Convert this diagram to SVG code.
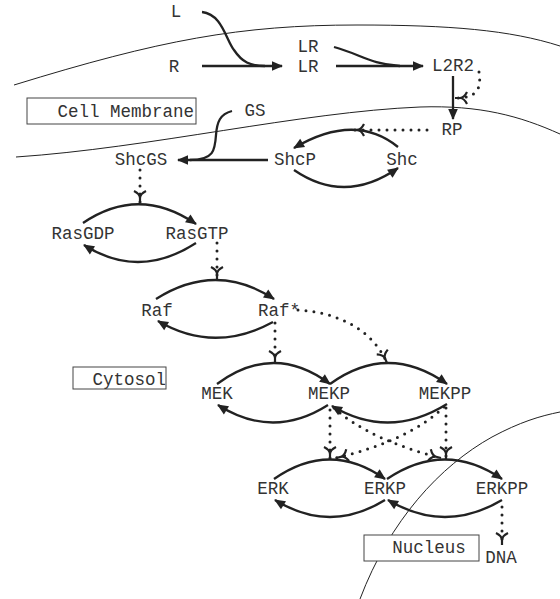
<svg xmlns="http://www.w3.org/2000/svg" width="560" height="599" viewBox="0 0 560 599">
<defs>
<style>
.t{font-family:"Liberation Mono","DejaVu Sans Mono",monospace;font-size:17.5px;fill:#333;text-anchor:middle}
.e{text-anchor:end}
.st{text-anchor:start}
.s{fill:none;stroke:#222;stroke-width:2.3;marker-end:url(#ah)}
.j{fill:none;stroke:#222;stroke-width:2.3}
.d{fill:none;stroke:#222;stroke-width:3;stroke-linecap:round;stroke-dasharray:0 8;marker-end:url(#y)}
.m{fill:none;stroke:#222;stroke-width:1}
.b{fill:#fff;stroke:#444;stroke-width:1}
</style>
<marker id="ah" markerUnits="userSpaceOnUse" viewBox="-12 -6 14 12" markerWidth="14" markerHeight="12" refX="0" refY="0" orient="auto">
<path d="M1,0 L-10,-4.8 L-10,4.8 Z" fill="#222"/>
</marker>
<marker id="y" markerUnits="userSpaceOnUse" viewBox="-14 -8 16 16" markerWidth="16" markerHeight="16" refX="0" refY="0" orient="auto">
<path d="M0,0 H-5 M-5,0 Q-9,0 -12,-6 M-5,0 Q-9,0 -12,6" fill="none" stroke="#222" stroke-width="2.2"/>
</marker>
</defs>
<g id="compartments">
<path class="m" d="M14,85 C160,40 240,25 357,25 C450,25 510,30 560,46"/>
<path class="m" d="M16,157 C150,148 300,112 420,107 C480,105 520,116 560,134"/>
<path class="m" d="M360,599 C390,520 440,466 492,437 C520,422 540,416 560,412"/>
</g>
<g id="labels">
<g id="label-membrane"><rect class="b" x="27" y="98" width="169" height="26"/><text class="t e" x="194" y="117">Cell Membrane</text></g>
<g id="label-cytosol"><rect class="b" x="73" y="367" width="93" height="22"/><text class="t e" x="166" y="385">Cytosol</text></g>
<g id="label-nucleus"><rect class="b" x="364" y="535" width="115" height="26"/><text class="t" x="429" y="553">Nucleus</text></g>
</g>
<g id="connectors">
<path class="s" d="M202,66 H282"/>
<path class="j" d="M202,12 C222,14 226,40 234,50 C242,62 250,66 265,66"/>
<path class="s" d="M336,66 H423"/>
<path class="j" d="M334,47 C360,54 370,64 400,66"/>
<path class="s" d="M453,76 V119"/>
<path class="d" d="M479,72 C481,86 480,98 455,98"/>
<path class="d" d="M427,130 H352"/>
<path class="s" d="M398,147 Q355,112 294,148"/>
<path class="s" d="M294,170 Q345,205 398,168"/>
<path class="s" d="M268,160 H178"/>
<path class="j" d="M232,111 C220,114 217,122 216,135 C215,150 214,160 190,160"/>
<path class="d" d="M140,170 V203"/>
<path class="s" d="M83,223 Q139,185 196,224"/>
<path class="s" d="M196,243 Q139,280 84,245"/>
<path class="d" d="M217,243 V279"/>
<path class="s" d="M156,299 Q216,261 274,299"/>
<path class="s" d="M273,322 Q214,354 158,321"/>
<path class="d" d="M275,323 V363"/>
<path class="d" d="M298,310 C335,312 372,328 387,363"/>
<path class="s" d="M217,384 Q274,342 330,384"/>
<path class="s" d="M330,384 Q388,342 447,384"/>
<path class="s" d="M328,405 Q273,440 218,405"/>
<path class="s" d="M447,404 Q389,440 332,406"/>
<path class="d" d="M330,410 V459"/>
<path class="d" d="M446,408 V459"/>
<path class="d" d="M334,408 Q370,440 441,458"/>
<path class="d" d="M444,407 Q410,440 336,458"/>
<path class="s" d="M274,479 Q330,440 385,479"/>
<path class="s" d="M387,479 Q445,440 502,479"/>
<path class="s" d="M385,500 Q330,534 275,500"/>
<path class="s" d="M502,500 Q445,534 388,500"/>
<path class="d" d="M502,507 V545"/>
</g>
<g id="n-L"><text class="t" x="176" y="17">L</text></g>
<g id="n-R"><text class="t" x="174" y="72">R</text></g>
<g id="n-LR1"><text class="t" x="308" y="52">LR</text></g>
<g id="n-LR2"><text class="t" x="308" y="72">LR</text></g>
<g id="n-L2R2"><text class="t" x="453" y="71">L2R2</text></g>
<g id="n-RP"><text class="t" x="452" y="135">RP</text></g>
<g id="n-GS"><text class="t" x="255" y="116">GS</text></g>
<g id="n-ShcGS"><text class="t" x="141" y="165">ShcGS</text></g>
<g id="n-ShcP"><text class="t" x="295" y="165">ShcP</text></g>
<g id="n-Shc"><text class="t" x="402" y="165">Shc</text></g>
<g id="n-RasGDP"><text class="t" x="83" y="239">RasGDP</text></g>
<g id="n-RasGTP"><text class="t" x="197" y="239">RasGTP</text></g>
<g id="n-Raf"><text class="t" x="157" y="316">Raf</text></g>
<g id="n-RafStar"><text class="t st" x="258" y="316">Raf*</text></g>
<g id="n-MEK"><text class="t" x="217" y="399">MEK</text></g>
<g id="n-MEKP"><text class="t" x="329" y="399">MEKP</text></g>
<g id="n-MEKPP"><text class="t" x="445" y="399">MEKPP</text></g>
<g id="n-ERK"><text class="t" x="273" y="494">ERK</text></g>
<g id="n-ERKP"><text class="t" x="385" y="494">ERKP</text></g>
<g id="n-ERKPP"><text class="t" x="502" y="494">ERKPP</text></g>
<g id="n-DNA"><text class="t" x="501" y="563">DNA</text></g>
</svg>
